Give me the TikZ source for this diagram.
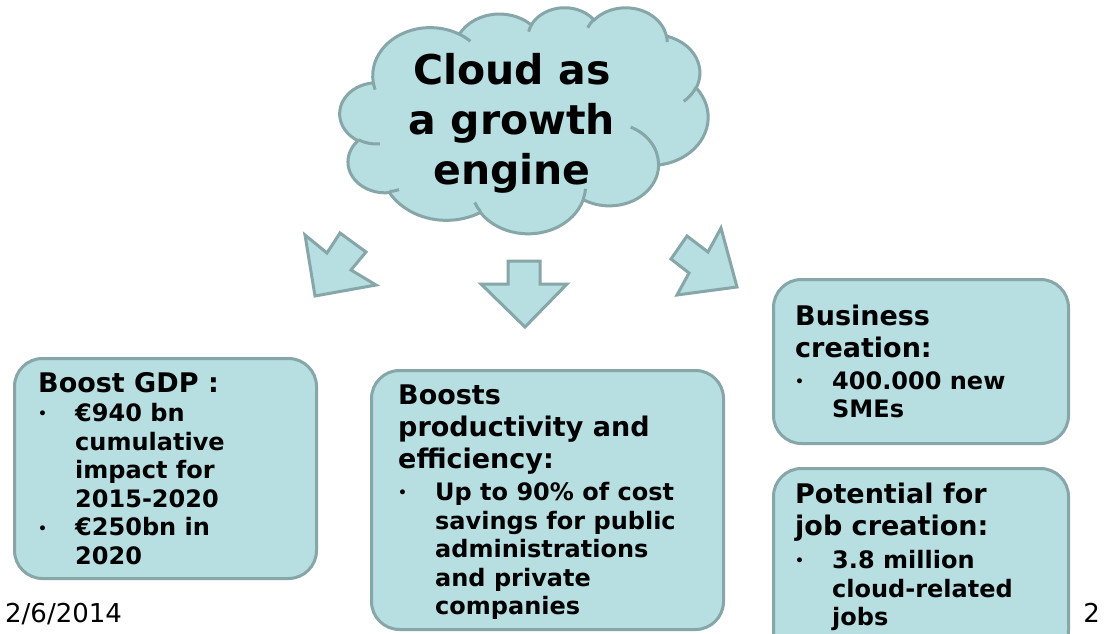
\documentclass[tikz,border=0pt]{standalone}
\usepackage{fontspec}
\setmainfont{DejaVu Sans}
\definecolor{cfill}{HTML}{B7DEE1}
\definecolor{cline}{HTML}{86A6A8}
\newcommand\myb{\makebox[37pt][l]{\raisebox{2.5pt}{\fontsize{14}{14}\selectfont\textbullet}}}
\newcommand\myi{\hspace*{37pt}}
\begin{document}
\begin{tikzpicture}[x=1pt,y=-1pt,
  shapefill/.style={fill=cfill,draw=cline,line width=3pt},
  shapeline/.style={draw=cline,line width=3pt},
  box/.style={shapefill,rounded corners=28pt,anchor=north west,inner sep=0pt},
  head/.style={anchor=north west,inner sep=0pt,align=left,font=\fontsize{27}{32}\selectfont\bfseries},
  items/.style={anchor=north west,inner sep=0pt,align=left,font=\fontsize{24}{28.6}\selectfont\bfseries},
  foot/.style={inner sep=0pt,font=\fontsize{26}{30}\selectfont}]
\useasboundingbox (0,0) rectangle (1104,634);
\clip (0,0) rectangle (1104,634);
\fill[white] (0,0) rectangle (1104,634);
% cloud (drawn shape)
\begin{scope}[shift={(340,7)},x=0.0851852pt,y=-0.0523148pt]
\draw[shapefill] (390,1437)
 arc[start angle=172.25, delta angle=128.11, x radius=675.3, y radius=919.0]
 arc[start angle=-152.02, delta angle=106.57, x radius=533.3, y radius=726.7]
 arc[start angle=-153.48, delta angle=116.16, x radius=436.5, y radius=594.5]
 arc[start angle=-139.70, delta angle=129.48, x radius=485.7, y radius=659.5]
 arc[start angle=-74.77, delta angle=97.98, x radius=533.3, y radius=727.3]
 arc[start angle=-37.54, delta angle=119.41, x radius=677.5, y radius=922.0]
 arc[start angle=0.46, delta angle=121.53, x radius=578.5, y radius=786.7]
 arc[start angle=16.85, delta angle=129.38, x radius=675.2, y radius=921.5]
 arc[start angle=58.98, delta angle=91.21, x radius=772.0, y radius=1054.3]
 arc[start angle=83.30, delta angle=139.81, x radius=436.0, y radius=591.8]
 arc[start angle=120.36, delta angle=143.75, x radius=434.5, y radius=594.5]
 -- cycle;
\draw[shapeline] (469.3,2617.7) arc[start angle=85.54, delta angle=34.82, x radius=434.5, y radius=594.5];
\draw[shapeline] (692.8,3489.9) arc[start angle=68.24, delta angle=15.06, x radius=436.0, y radius=591.8];
\draw[shapeline] (1647.8,3909.0) arc[start angle=146.23, delta angle=12.25, x radius=675.2, y radius=921.5];
\draw[shapeline] (2882.7,3475.1) arc[start angle=4.74, delta angle=12.11, x radius=675.2, y radius=921.5];
\draw[shapeline] (3412.9,2295.4) arc[start angle=-64.03, delta angle=64.49, x radius=578.5, y radius=786.7];
\draw[shapeline] (4179.8,1535.4) arc[start angle=23.21, delta angle=26.42, x radius=533.3, y radius=727.3];
\draw[shapeline] (3832.4,542.6) arc[start angle=-10.22, delta angle=11.04, x radius=485.7, y radius=659.5];
\draw[shapeline] (2907.8,395.2) arc[start angle=-156.29, delta angle=16.59, x radius=485.7, y radius=659.5];
\draw[shapeline] (2214.1,472.0) arc[start angle=-167.73, delta angle=14.25, x radius=436.5, y radius=594.5];
\draw[shapeline] (1400.0,519.2) arc[start angle=-59.64, delta angle=13.90, x radius=675.3, y radius=919.0];
\draw[shapeline] (412.7,1578.9) arc[start angle=163.19, delta angle=9.06, x radius=675.3, y radius=919.0];
\end{scope}
\node[inner sep=0pt,align=center,anchor=north,font=\fontsize{41}{50}\selectfont\bfseries] (ctext) at (512,53) {Cloud as\\a growth\\engine};
% block arrows
\draw[shapefill] (305,235) -- (327,253) -- (340,233) -- (366,252) -- (351,270) -- (376,285) -- (315,296) -- cycle;
\draw[shapefill] (508,261) -- (540,261) -- (540,284) -- (567,284) -- (525,327) -- (481,284) -- (508,284) -- cycle;
\draw[shapefill] (721,228) -- (737,287) -- (677,295) -- (689,273) -- (671,259) -- (687,236) -- (708,252) -- cycle;
% boxes
\node[box,minimum width=302pt,minimum height=220pt] (gdp) at (13,357) {};
\node[box,minimum width=352pt,minimum height=259pt] (prod) at (370,369) {};
\node[box,minimum width=295pt,minimum height=164pt] (biz) at (772,278) {};
\node[box,minimum width=295pt,minimum height=190pt] (job) at (772,467) {};
% texts
\node[head] (gdph) at (38,372) {Boost GDP :};
\node[items] (gdpi) at (38,403) {\myb €940 bn\\\myi cumulative\\\myi impact for\\\myi 2015-2020\\\myb €250bn in\\\myi 2020};
\node[head] (prodh) at (398,385) {Boosts\\productivity and\\efficiency:};
\node[items] (prodi) at (398,482) {\myb Up to 90\% of cost\\\myi savings for public\\\myi administrations\\\myi and private\\\myi companies};
\node[head] (bizh) at (795,305) {Business\\creation:};
\node[items] (bizi) at (795,371) {\myb 400.000 new\\\myi SMEs};
\node[head] (jobh) at (795,483) {Potential for\\job creation:};
\node[items] (jobi) at (795,550) {\myb 3.8 million\\\myi cloud-related\\\myi jobs};
% footer
\node[foot,anchor=base west] (date) at (5,622) {2/6/2014};
\node[foot,anchor=base east] (page) at (1100,622) {2};
\end{tikzpicture}
\end{document}
